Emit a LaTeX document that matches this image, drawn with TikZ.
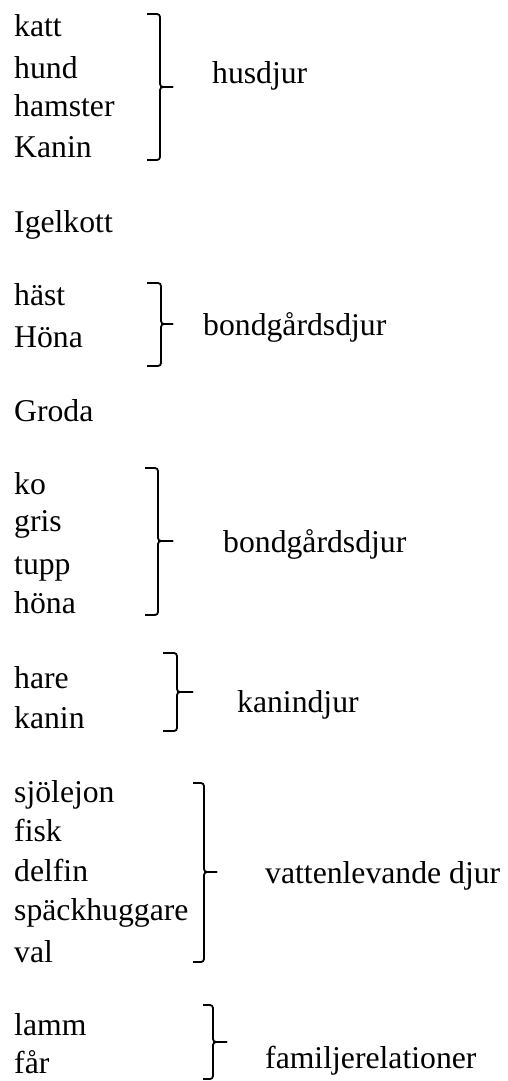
\documentclass[tikz,border=0pt]{standalone}
\usepackage{fontspec}
\setmainfont{Liberation Serif}
\begin{document}
\begin{tikzpicture}[x=1pt,y=-1pt,
  word/.style={anchor=base west,inner sep=0pt,font=\fontsize{31.7}{38}\selectfont},
  brace/.style={line width=1.8pt,rounded corners=3pt,line cap=butt}]
\useasboundingbox (0,0) rectangle (507,1081);
% left column
\node[word] (w1) at (14,37) {katt};
\node[word] (w2) at (14,78) {hund};
\node[word] (w3) at (14,116) {hamster};
\node[word] (w4) at (14,157) {Kanin};
\node[word] (w5) at (14,232) {Igelkott};
\node[word] (w6) at (14,305) {häst};
\node[word] (w7) at (14,347) {Höna};
\node[word] (w8) at (14,421) {Groda};
\node[word] (w9) at (14,494) {ko};
\node[word] (w10) at (14,531) {gris};
\node[word] (w11) at (14,574) {tupp};
\node[word] (w12) at (14,613) {höna};
\node[word] (w13) at (14,688) {hare};
\node[word] (w14) at (14,728) {kanin};
\node[word] (w15) at (14,802) {sjölejon};
\node[word] (w16) at (14,841) {fisk};
\node[word] (w17) at (14,881) {delfin};
\node[word] (w18) at (14,920) {späckhuggare};
\node[word] (w19) at (14,962) {val};
\node[word] (w20) at (14,1035) {lamm};
\node[word] (w21) at (14,1073) {får};
% labels
\node[word] (g1) at (212,83) {husdjur};
\node[word] (g2) at (203,335) {bondgårdsdjur};
\node[word] (g3) at (223,552) {bondgårdsdjur};
\node[word] (g4) at (237,712) {kanindjur};
\node[word] (g5) at (265,883) {vattenlevande djur};
\node[word] (g6) at (265,1068) {familjerelationer};
% braces: hook start, x, top, mid, bottom, tick end
\foreach \h/\x/\t/\m/\b/\e in {147/160/14/87/160/173, 147/161/283/324/366/173, 145/158/468/541/615/173, 163/177/653/692/731/193, 193/204/783/872/962/217, 203/213/1005/1042/1079/227}{
  \draw[brace] (\h,\t) -- (\x,\t) -- (\x,\m) -- (\e,\m);
  \draw[brace] (\h,\b) -- (\x,\b) -- (\x,\m) -- (\e,\m);
}
\end{tikzpicture}
\end{document}
